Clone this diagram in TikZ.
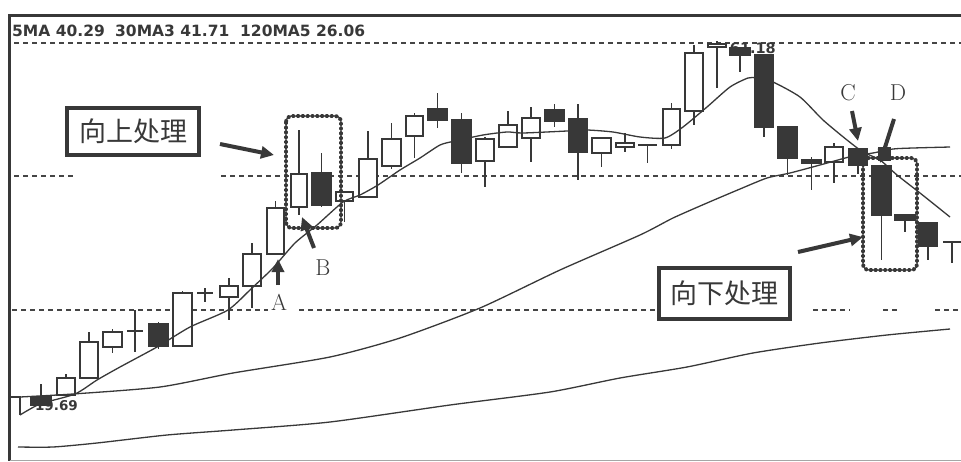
\documentclass[tikz,border=0pt]{standalone}
\usepackage{fontspec}
\newfontfamily\cjk{Noto Sans CJK SC}
\newfontfamily\hdr{DejaVu Sans}
\usetikzlibrary{arrows.meta}
\definecolor{ink}{HTML}{383838}
\definecolor{dashc}{HTML}{454545}
\newcommand\cdl[7]{%
  \draw[candle] ({(#2+#3)/2},#4) -- ({(#2+#3)/2},#7);
  \draw[candle,fill=#1] (#2,#5) rectangle (#3,#6);}
\newcommand\crs[5]{%
  \draw[candle] ({(#1+#2)/2},#4) -- ({(#1+#2)/2},#5);
  \draw[candle] (#1,#3) -- (#2,#3);}
\begin{document}
\begin{tikzpicture}[x=1pt,y=-1pt,
  candle/.style={draw=ink,line width=1.8pt},
  ma/.style={draw=ink,line width=1.3pt,line join=round},
  grid/.style={draw=dashc,line width=1.2pt,dash pattern=on 5pt off 4pt},
  dotbox/.style={draw=ink,line width=3.8pt,dash pattern=on 1.6pt off 3.2pt,line cap=round,rounded corners=6pt},
  arr/.style={draw=ink,fill=ink,line width=4pt,-{Triangle[length=13pt,width=12pt]}},
  tag/.style={font=\fontsize{23}{23}\selectfont,text=ink,inner sep=0pt},
  cbox/.style={draw=ink,line width=3.6pt,font=\cjk\fontsize{27}{27}\selectfont,text=ink,inner sep=0pt},
  hd/.style={anchor=west,inner sep=0pt,text=ink,font=\hdr\bfseries\fontsize{15.5}{15.5}\selectfont}]
\useasboundingbox (0,0) rectangle (961,461);
\fill[white] (0,0) rectangle (961,461);
% frame
\draw[ink,line width=3pt] (8,15.5) -- (961,15.5);
\draw[ink,line width=3.2pt] (9.5,14) -- (9.5,461);
\draw[gray!70,line width=1pt] (9.5,460) -- (961,460);
% header
\node[hd] (h1) at (12,30.5) {5MA 40.29};
\node[hd] (h2) at (115,30.5) {30MA3 41.71};
\node[hd] (h3) at (240,30.5) {120MA5 26.06};
% dashed grid
\draw[grid] (14,43) -- (961,43);
\draw[grid] (14,176) -- (73,176);
\draw[grid] (221,176) -- (961,176);
\draw[grid] (12,310) -- (268,310);
\draw[grid] (299,310) -- (655,310);
\draw[grid] (813,310) -- (850,310);
\draw[grid] (883,310) -- (897,310);
\draw[grid] (935,310) -- (961,310);
% price labels
\node[anchor=east,inner sep=0pt,text=ink,font=\hdr\bfseries\fontsize{13.5}{13.5}\selectfont] (lo) at (78,406) {19.69};
\node[anchor=east,inner sep=0pt,text=ink,font=\hdr\bfseries\fontsize{14.5}{14.5}\selectfont] (hi) at (776,48) {61.18};
% candles
\draw[candle] (10,397) -- (20,397) -- (20,415);
\cdl{ink}{31}{51}{384}{397}{405}{405}
\cdl{white}{57}{75}{374}{378}{395}{395}
\cdl{white}{80}{98}{332}{342}{378}{378}
\cdl{white}{103}{122}{329}{332}{347}{353}
\crs{127}{143}{331}{310}{352}
\cdl{ink}{149}{168}{322}{324}{346}{349}
\cdl{white}{173}{192}{291}{293}{346}{346}
\crs{197}{213}{293}{288}{302}
\cdl{white}{220}{238}{278}{286}{297}{320}
\cdl{white}{243}{261}{243}{254}{286}{308}
\cdl{white}{267}{284}{201}{208}{254}{254}
\cdl{white}{291}{307}{130}{174}{207}{215}
\cdl{ink}{312}{331}{153}{173}{205}{207}
\cdl{white}{336}{353}{192}{192}{201}{222}
\cdl{white}{359}{377}{131}{159}{197}{197}
\cdl{white}{382}{401}{123}{139}{166}{169}
\cdl{white}{406}{423}{113}{116}{136}{158}
\cdl{ink}{428}{447}{93}{109}{120}{128}
\cdl{ink}{452}{471}{113}{120}{163}{173}
\cdl{white}{476}{494}{137}{139}{161}{187}
\cdl{white}{499}{517}{111}{125}{147}{147}
\cdl{white}{522}{540}{107}{118}{138}{162}
\cdl{ink}{545}{564}{104}{110}{121}{127}
\cdl{ink}{569}{587}{104}{119}{152}{180}
\cdl{white}{592}{611}{138}{138}{153}{167}
\cdl{white}{616}{634}{133}{143}{147}{152}
\crs{638}{657}{145}{145}{163}
\cdl{white}{663}{680}{103}{109}{145}{149}
\cdl{white}{685}{703}{45}{53}{111}{125}
\cdl{white}{708}{726}{41}{44}{47}{88}
\cdl{ink}{730}{750}{48}{48}{55}{72}
\cdl{ink}{755}{773}{55}{55}{127}{137}
\cdl{ink}{778}{797}{127}{127}{158}{175}
\cdl{ink}{802}{821}{157}{160}{163}{190}
\cdl{white}{825}{843}{143}{147}{162}{183}
\cdl{ink}{849}{867}{149}{149}{165}{174}
\cdl{ink}{879}{890}{148}{148}{160}{160}
\cdl{ink}{872}{891}{166}{166}{215}{260}
\cdl{ink}{895}{915}{215}{215}{220}{232}
\cdl{ink}{919}{937}{222}{223}{246}{260}
\crs{943}{961}{242}{242}{263}
% moving averages
\draw[ma] plot[smooth,tension=0.4] coordinates {(20,415) (40,404) (75,394) (97,380) (120,367) (157,347) (190,327) (228,310) (252,288) (273,268) (295,243) (317,225) (343,202) (360,195) (378,185) (400,170) (420,158) (440,145) (455,141) (483,135) (507,132) (523,133) (567,131) (587,130) (613,132) (640,137) (665,138) (683,127) (707,107) (730,87) (748,78) (757,78) (773,82) (800,97) (823,120) (847,140) (863,152) (880,160) (897,175) (920,193) (950,217)};
\draw[ma] plot[smooth,tension=0.4] coordinates {(20,397) (73,394) (160,387) (233,373) (330,357) (400,338) (480,308) (560,270) (640,235) (673,218) (707,203) (740,189) (767,178) (790,173) (820,165) (853,156) (873,153) (893,149) (913,148) (950,147)};
\draw[ma] plot[smooth,tension=0.4] coordinates {(18,447) (53,447) (97,443) (167,435) (233,430) (330,422) (450,405) (550,392) (620,378) (687,367) (753,353) (820,343) (887,335) (950,329)};
% highlight boxes
\draw[dotbox] (286,116) rectangle (341,228);
\draw[dotbox] (863,158) rectangle (917,270);
% caption boxes
\node[cbox,minimum width=132.4pt,minimum height=47.4pt] (up) at (133,131.5) {向上处理};
\node[cbox,minimum width=131.4pt,minimum height=51.4pt] (down) at (724.5,293.5) {向下处理};
% arrows
\coordinate (u1) at (220,144); \coordinate (u2) at (274,155);
\coordinate (a1) at (278,285); \coordinate (a2) at (278,259);
\coordinate (b1) at (314,248); \coordinate (b2) at (302,217);
\coordinate (c1) at (852,111); \coordinate (c2) at (858,141);
\coordinate (d1) at (894,119); \coordinate (d2) at (880,163);
\coordinate (e1) at (798,252); \coordinate (e2) at (863,237);
\draw[arr] (u1) -- (u2);
\draw[arr] (a1) -- (a2);
\draw[arr] (b1) -- (b2);
\draw[arr] (c1) -- (c2);
\draw[arr] (d1) -- (d2);
\draw[arr] (e1) -- (e2);
% letters
\node[tag] (la) at (279,302) {A};
\node[tag] (lb) at (323,268) {B};
\node[tag] (lc) at (848,93) {C};
\node[tag] (ld) at (898,93) {D};
\end{tikzpicture}
\end{document}
